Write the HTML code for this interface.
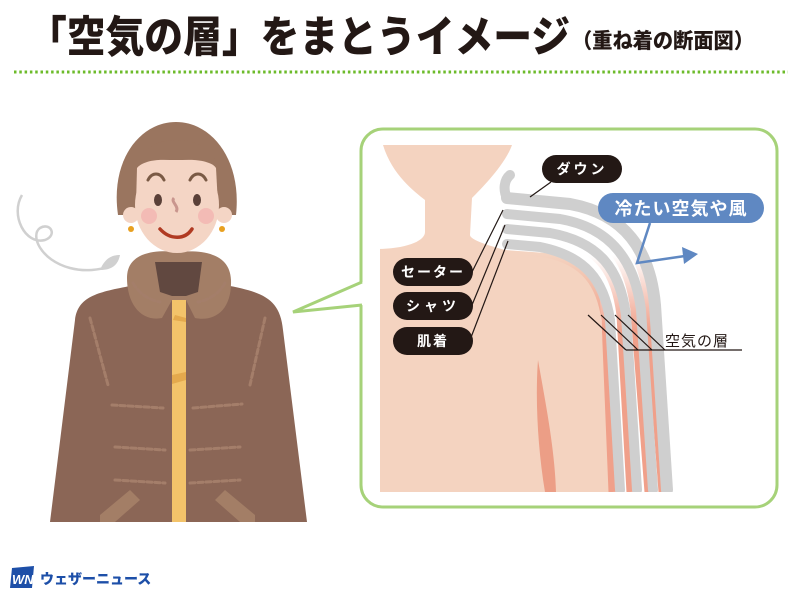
<!DOCTYPE html>
<html><head><meta charset="utf-8"><style>
html,body{margin:0;padding:0;background:#fff;}
body{width:800px;height:600px;overflow:hidden;position:relative;font-family:"Liberation Sans","Noto Sans CJK JP",sans-serif;}
</style></head><body>
<svg width="800" height="600" viewBox="0 0 800 600" xmlns="http://www.w3.org/2000/svg" style="position:absolute;left:0;top:0">
<defs>
<linearGradient id="pk" gradientUnits="userSpaceOnUse" x1="0" y1="255" x2="0" y2="330">
<stop offset="0" stop-color="#f0a08a" stop-opacity="0"/><stop offset="1" stop-color="#f0a08a" stop-opacity="1"/>
</linearGradient>
</defs>
<text x="28" y="52" font-family="Noto Sans CJK JP, sans-serif" font-weight="900" font-size="43" fill="#231815" textLength="542" lengthAdjust="spacingAndGlyphs">「空気の層」をまとうイメージ</text>
<text x="572" y="48" font-family="Noto Sans CJK JP, sans-serif" font-weight="900" font-size="21" fill="#231815" textLength="182" lengthAdjust="spacingAndGlyphs">（重ね着の断面図）</text>
<line x1="14" y1="72" x2="788" y2="72" stroke="#6cbb2a" stroke-width="3" stroke-dasharray="2.5 2.8"/>

<!-- panel -->
<rect x="361" y="129" width="416" height="378" rx="22" fill="#fff" stroke="#a6d279" stroke-width="3"/>
<polygon points="363,282 293,312 363,305" fill="#fff"/>
<polyline points="362,282 293,312 362,305" fill="none" stroke="#a6d279" stroke-width="3"/>
<!-- skin -->
<path d="M383,145 L512,145 C505,165 480,190 472,198 L470,235 C470,240 490,246 505,250 L560,254 C585,262 595,280 600,300 L612,492 L380,492 L380,249 C410,248 425,240 425,232 L425,200 C415,192 392,175 383,145 Z" fill="#f4d3c0"/>
<path d="M538,360 C545,400 555,450 556,492 L545,492 C538,450 535,400 538,360 Z" fill="#ec9e86"/>
<!-- pink air stripes -->
<g fill="none" stroke="url(#pk)" stroke-width="7">
<path d="M505,250 L545,254 C585,262 600,285 605,320 L612,492"/>
<path d="M505,235 L555,240 C600,248 615,275 620,315 L630,492"/>
<path d="M505,220 L565,226 C612,235 628,265 634,310 L648,492"/>
<path d="M505,205 L575,212 C625,222 642,255 648,305 L662,492"/>
</g>
<!-- grey layers -->
<g fill="none" stroke="#cfcfcf" stroke-width="10" stroke-linecap="round">
<path d="M507,244 L540,247 C585,256 604,280 610,320 L620,490"/>
<path d="M507,229 L550,233 C600,242 620,270 626,315 L637,490"/>
<path d="M507,214 L560,219 C612,228 635,262 641,310 L653,490"/>
<path d="M507,198 L570,204 C625,214 650,250 655,305 L667,490" stroke-width="12"/>
<path d="M507,198 C503,190 504,180 510,175" stroke-width="10"/>
</g>
<rect x="600" y="492" width="80" height="6" fill="#fff"/>
<!-- labels -->
<g stroke="#231815" stroke-width="1.2">
<line x1="551" y1="182" x2="530" y2="197"/>
<line x1="472" y1="272" x2="503" y2="210"/>
<line x1="472" y1="305" x2="505" y2="225"/>
<line x1="470" y1="340" x2="508" y2="241"/>
<line x1="588" y1="315" x2="626" y2="350"/>
<line x1="601" y1="315" x2="638" y2="350"/>
<line x1="615" y1="315" x2="652" y2="350"/>
<line x1="628" y1="315" x2="665" y2="350"/>
<line x1="626" y1="350" x2="742" y2="350"/>
</g>
<g fill="#231815">
<rect x="542" y="155" width="80" height="28" rx="14"/>
<rect x="393" y="258" width="80" height="28" rx="14"/>
<rect x="393" y="292" width="80" height="28" rx="14"/>
<rect x="393" y="327" width="80" height="28" rx="14"/>
</g>
<g fill="#fff" font-family="Noto Sans CJK JP, sans-serif" font-size="14" font-weight="700" text-anchor="middle">
<text x="582" y="174" letter-spacing="3">ダウン</text>
<text x="433" y="277" letter-spacing="2">セーター</text>
<text x="433" y="311" letter-spacing="4">シャツ</text>
<text x="433" y="346" letter-spacing="2">肌着</text>
</g>
<text x="665" y="346" font-family="Noto Sans CJK JP, sans-serif" font-size="15" fill="#231815" letter-spacing="1">空気の層</text>
<rect x="598" y="193" width="166" height="30" rx="15" fill="#5f88c2"/>
<text x="681" y="215" text-anchor="middle" font-family="Noto Sans CJK JP, sans-serif" font-size="18" font-weight="700" fill="#fff" letter-spacing="1">冷たい空気や風</text>
<polyline points="650,223 637,263 685,256" fill="none" stroke="#5f88c2" stroke-width="2.5"/>
<polygon points="698,254 682,247 684,264" fill="#5f88c2"/>

<!-- wind swirl -->
<path d="M22,195 C10,215 25,245 45,240 C58,235 50,222 40,228 C30,235 40,260 70,268 C85,272 100,270 110,266" fill="none" stroke="#d0d0d0" stroke-width="2.5"/>
<path d="M100,270 C105,258 112,255 120,255 C118,265 112,270 100,270 Z" fill="#d0d0d0"/>

<!-- woman: jacket first -->
<path d="M75,320 C78,295 100,292 135,285 L225,285 C262,292 280,298 283,330 L307,522 L50,522 Z" fill="#8b6656"/>
<rect x="172" y="295" width="14" height="227" fill="#f3c36a"/>
<path d="M175,315 L186,318 L186,322 L173,320 Z" fill="#e4a94d"/>
<path d="M172,375 L186,372 L186,380 L172,384 Z" fill="#e4a94d"/>
<!-- collar -->
<path d="M127,278 C127,250 160,250 178,252 C200,250 230,252 231,280 C232,310 215,322 195,318 L186,300 L172,300 L162,318 C142,322 127,305 127,278 Z" fill="#a37e66"/>
<path d="M155,262 L202,262 L198,292 L186,296 L172,296 L160,292 Z" fill="#614840"/>
<!-- head -->
<path d="M118,215 C110,160 140,122 176,122 C212,122 242,160 236,215 Z" fill="#9a755f"/>
<ellipse cx="177" cy="205" rx="42" ry="48" fill="#f4d5c5"/>
<path d="M137,168 C150,152 205,152 216,168 L218,205 L136,205 Z" fill="#f4d5c5"/>
<path d="M136,168 C140,150 155,140 176,140 C198,140 214,150 218,168 C205,158 190,160 176,160 C162,160 148,158 136,168 Z" fill="#9a755f"/>
<circle cx="131" cy="215" r="8" fill="#f4d5c5"/><circle cx="224" cy="215" r="8" fill="#f4d5c5"/>
<circle cx="131" cy="229" r="3" fill="#e8a020"/><circle cx="222" cy="229" r="3" fill="#e8a020"/>
<path d="M148,180 C152,172 160,172 164,180" fill="none" stroke="#7a5a45" stroke-width="3" stroke-linecap="round"/>
<path d="M190,180 C194,172 202,172 206,180" fill="none" stroke="#7a5a45" stroke-width="3" stroke-linecap="round"/>
<ellipse cx="158" cy="200" rx="4" ry="6" fill="#5a4038"/><ellipse cx="197" cy="200" rx="4" ry="6" fill="#5a4038"/>
<circle cx="149" cy="216" r="8" fill="#f2b4b0" opacity="0.8"/><circle cx="206" cy="216" r="8" fill="#f2b4b0" opacity="0.8"/>
<path d="M174,198 C170,202 180,206 176,212" fill="none" stroke="#c9968e" stroke-width="3"/>
<path d="M160,229 C170,240 185,240 192,229" fill="none" stroke="#b03a22" stroke-width="3.5" stroke-linecap="round"/>
<g fill="none" stroke="#a47e6a" stroke-width="3" stroke-dasharray="5 3" stroke-linecap="round">
<path d="M133,283 C140,295 150,300 160,302"/><path d="M225,283 C218,295 208,300 198,302"/>
<path d="M90,318 L108,385"/><path d="M265,318 L250,385"/>
<path d="M112,405 L163,408"/><path d="M193,408 L242,404"/>
<path d="M115,447 L165,450"/><path d="M190,450 L240,447"/>
<path d="M115,480 L165,483"/><path d="M190,483 L240,480"/>
</g>
<path d="M100,515 L130,490 L140,500 L115,522 L100,522 Z" fill="#a37e66"/>
<path d="M255,515 L225,490 L215,500 L240,522 L255,522 Z" fill="#a37e66"/>

<!-- logo -->
<path d="M12,568 L34,566 L32,588 L10,588 Z" fill="#1d4fa8"/>
<text x="12" y="584" font-family="Liberation Sans, sans-serif" font-size="13" font-weight="700" font-style="italic" fill="#fff">WN</text>
<text x="40" y="584" font-family="Noto Sans CJK JP, sans-serif" font-size="14" font-weight="900" fill="#1d4fa8">ウェザーニュース</text>
</svg>
</body></html>
